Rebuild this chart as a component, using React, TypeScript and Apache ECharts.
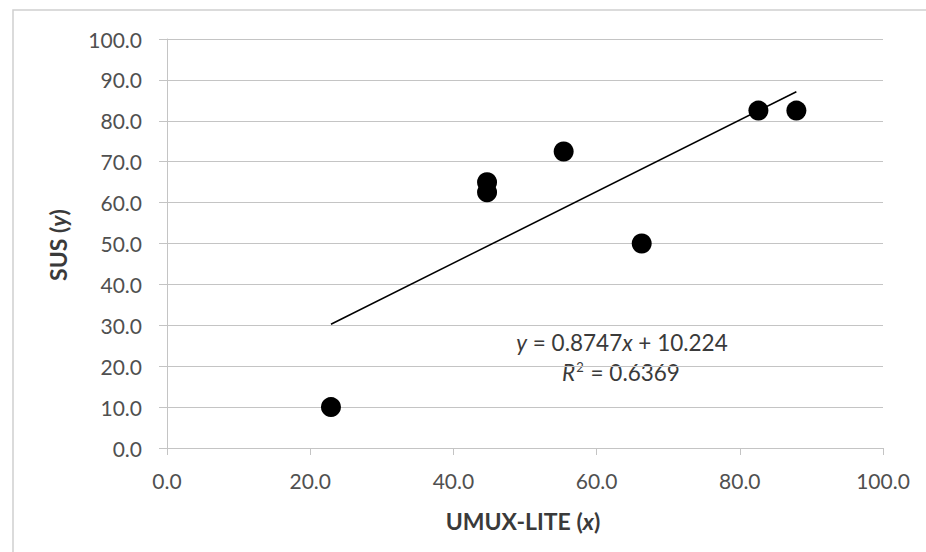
import React, { useEffect, useRef } from "react";
import * as echarts from "echarts";

// UMUX-LITE (x) vs SUS (y) values
const umuxLite = [22.9, 44.7, 44.7, 55.4, 66.3, 82.6, 87.9];
const sus = [10.0, 65.0, 62.5, 72.5, 50.0, 82.5, 82.5];

// Linear trendline shown on the chart
const trendSlope = 0.8747;
const trendIntercept = 10.224;
const rSquared = 0.6369;

const xTitle = "UMUX-LITE";
const yTitle = "SUS";

const FONT = "Lato, 'Open Sans', sans-serif";
const LABEL = "#505050";
const TITLE = "#3a3a3a";
const GRID = "#c4c4c4";

export default function App() {
  const ref = useRef<HTMLDivElement>(null);

  useEffect(() => {
    if (!ref.current) return;
    const chart = echarts.init(ref.current, undefined, { renderer: "svg" });
    const points = umuxLite.map((x, i) => [x, sus[i]]);
    const xMin = Math.min(...umuxLite);
    const xMax = Math.max(...umuxLite);
    const trend = [
      [xMin, trendSlope * xMin + trendIntercept],
      [xMax, trendSlope * xMax + trendIntercept],
    ];

    chart.setOption({
      animation: false,
      backgroundColor: "#ffffff",
      textStyle: { fontFamily: FONT },
      grid: {
        left: 167,
        top: 39,
        width: 716,
        height: 409,
        containLabel: false,
        outerBoundsMode: "none",
      },
      xAxis: {
        type: "value",
        min: 0,
        max: 100,
        interval: 20,
        axisLine: { show: true, lineStyle: { color: GRID, width: 1 } },
        axisTick: { show: true, length: 7, lineStyle: { color: GRID } },
        splitLine: { show: false },
        axisLabel: {
          formatter: (v: number) => v.toFixed(1),
          fontSize: 21,
          fontFamily: FONT,
          color: LABEL,
          margin: 22,
        },
      },
      yAxis: {
        type: "value",
        min: 0,
        max: 100,
        interval: 10,
        axisLine: { show: true, lineStyle: { color: GRID, width: 1 } },
        axisTick: { show: true, length: 8, lineStyle: { color: GRID } },
        splitLine: { show: true, lineStyle: { color: GRID, width: 1 } },
        axisLabel: {
          formatter: (v: number) => v.toFixed(1),
          fontSize: 21,
          fontFamily: FONT,
          color: LABEL,
          margin: 25,
        },
      },
      series: [
        {
          type: "line",
          data: trend,
          symbol: "none",
          lineStyle: { color: "#000000", width: 1.5 },
          silent: true,
          z: 1,
        },
        {
          type: "scatter",
          data: points,
          symbol: "circle",
          symbolSize: 20,
          itemStyle: { color: "#000000", opacity: 1 },
          z: 2,
        },
      ],
      graphic: [
        {
          type: "rect",
          shape: { x: 13, y: 10, width: 960, height: 600 },
          style: { fill: "none", stroke: "#d0d0d0", lineWidth: 1.5 },
          silent: true,
          z: -1,
        },
        {
          type: "text",
          x: 523,
          y: 521,
          style: {
            text: `${xTitle} ({i|x})`,
            fontFamily: FONT,
            fontSize: 23,
            fontWeight: "bold",
            fill: TITLE,
            align: "center",
            verticalAlign: "middle",
            rich: {
              i: { fontFamily: FONT, fontSize: 23, fontWeight: "bold", fontStyle: "italic", fill: TITLE },
            },
          },
        },
        {
          type: "text",
          x: 58,
          y: 245,
          rotation: Math.PI / 2,
          style: {
            text: `${yTitle} ({i|y})`,
            fontFamily: FONT,
            fontSize: 23,
            fontWeight: "bold",
            fill: TITLE,
            align: "center",
            verticalAlign: "middle",
            rich: {
              i: { fontFamily: FONT, fontSize: 23, fontWeight: "bold", fontStyle: "italic", fill: TITLE },
            },
          },
        },
        {
          type: "text",
          x: 622,
          y: 342,
          style: {
            text: `{i|y} = ${trendSlope}{i|x} + ${trendIntercept}`,
            fontFamily: FONT,
            fontSize: 22.5,
            fill: TITLE,
            align: "center",
            verticalAlign: "middle",
            rich: {
              i: { fontFamily: FONT, fontSize: 22.5, fontStyle: "italic", fill: TITLE },
            },
          },
        },
        {
          type: "text",
          x: 621,
          y: 372,
          style: {
            text: `{i|R}{s|2} = ${rSquared}`,
            fontFamily: FONT,
            fontSize: 22.5,
            fill: TITLE,
            align: "center",
            verticalAlign: "middle",
            rich: {
              i: { fontFamily: FONT, fontSize: 22.5, fontStyle: "italic", fill: TITLE },
              s: { fontFamily: FONT, fontSize: 13, fill: TITLE, verticalAlign: "top", padding: [0, 1, 8, 1] },
            },
          },
        },
      ],
    });

    return () => chart.dispose();
  }, []);

  return (
    <div
      ref={ref}
      style={{ position: "fixed", left: 0, top: 0, width: 926, height: 552 }}
    />
  );
}
